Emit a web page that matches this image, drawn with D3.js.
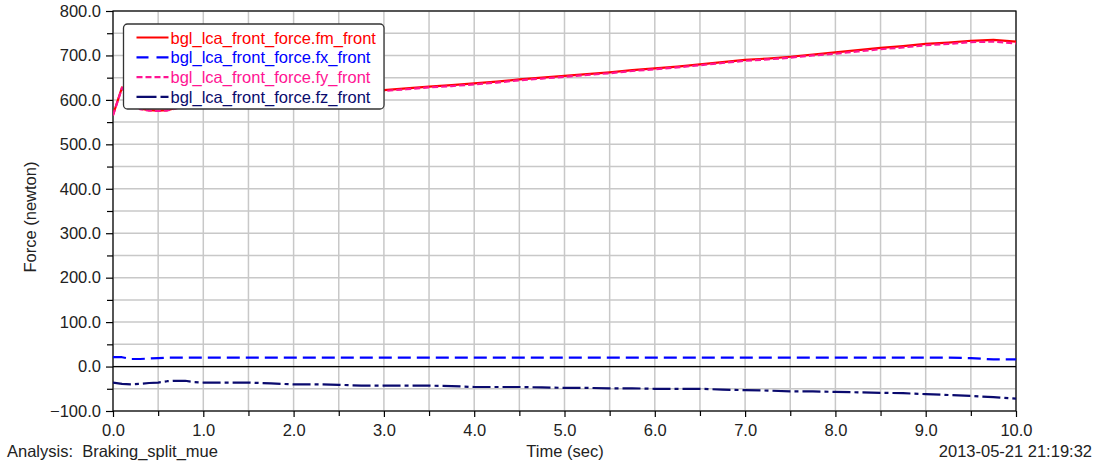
<!DOCTYPE html>
<html>
<head>
<meta charset="utf-8">
<script src="https://cdn.jsdelivr.net/npm/d3@7"></script>
<style>
  html, body { margin: 0; padding: 0; background: #fff; }
  svg { display: block; font-family: "Liberation Sans", Arial, sans-serif; }
</style>
</head>
<body>
<svg id="chart" width="1102" height="468"></svg>
<script>
// Sample times (sec)
const time = [0, 0.1, 0.2, 0.3, 0.4, 0.5, 0.6, 0.7, 0.8, 0.9, 1.0,
  1.25, 1.5, 1.75, 2.0, 2.25, 2.5, 2.75, 3.0, 3.25, 3.5, 3.75, 4.0,
  4.25, 4.5, 4.75, 5.0, 5.25, 5.5, 5.75, 6.0, 6.25, 6.5, 6.75, 7.0,
  7.25, 7.5, 7.75, 8.0, 8.25, 8.5, 8.75, 9.0, 9.25, 9.5, 9.75, 10.0];

// Force components (newton)
const fmFront = [566, 628, 598, 580, 577, 576, 577, 582, 588, 593, 598,
  602, 606, 609, 612, 614, 617, 619, 622, 626, 630, 633, 637,
  641, 646, 650, 654, 658, 662, 667, 671, 675, 680, 685, 690,
  693, 697, 702, 707, 712, 717, 721, 726, 729, 733, 735, 731];

const fxFront = [21, 21, 17, 17, 18, 19, 20, 20, 20, 20, 20,
  20, 20, 20, 20, 20, 20, 20, 20, 20, 20, 20, 20,
  20, 20, 20, 20, 20, 20, 20, 20, 20, 20, 20, 20,
  20, 20, 20, 20, 20, 20, 20, 20, 20, 19, 16, 16];

const fyFront = [565, 627, 597, 579, 576, 575, 576, 581, 587, 592, 597,
  601, 605, 608, 611, 613, 616, 618, 620, 624, 628, 631, 635,
  639, 644, 648, 652, 656, 660, 665, 669, 673, 678, 683, 688,
  691, 695, 700, 704, 709, 714, 718, 723, 726, 730, 731, 727];

const fzFront = [-36, -39, -40, -39, -37, -36, -33, -32, -32, -35, -36,
  -36, -36, -38, -40, -40, -41, -43, -43, -43, -43, -44, -46,
  -46, -46, -47, -48, -48, -49, -49, -50, -50, -50, -52, -53,
  -54, -56, -56, -57, -58, -59, -60, -62, -64, -66, -69, -72];

const seriesNames = [
  "bgl_lca_front_force.fm_front",
  "bgl_lca_front_force.fx_front",
  "bgl_lca_front_force.fy_front",
  "bgl_lca_front_force.fz_front"
];

const xTickValues = [0, 1, 2, 3, 4, 5, 6, 7, 8, 9, 10];
const yTickValues = [-100, 0, 100, 200, 300, 400, 500, 600, 700, 800];

const series = [
  { name: seriesNames[0], values: fmFront, color: "#ff0000", dash: null },
  { name: seriesNames[1], values: fxFront, color: "#0000ff", dash: "13,6" },
  { name: seriesNames[2], values: fyFront, color: "#ff1493", dash: "6,3" },
  { name: seriesNames[3], values: fzFront, color: "#0a0a6e", dash: "18,4,4,4" }
];

const svg = d3.select("#chart");
const plotLeft = 113, plotRight = 1016, plotTop = 11, plotBottom = 411;

const x = d3.scaleLinear().domain([0, 10]).range([plotLeft, plotRight]);
const y = d3.scaleLinear().domain([-100, 800]).range([plotBottom, plotTop]);

// Grid at every half unit
const xGrid = d3.range(0, 10.01, 0.5);
const yGrid = d3.range(-100, 800.1, 50);
const grid = svg.append("g").attr("stroke", "#c8c8c8").attr("stroke-width", 1.5);
grid.selectAll("line.vx").data(xGrid).join("line")
  .attr("x1", d => x(d)).attr("x2", d => x(d))
  .attr("y1", plotTop).attr("y2", plotBottom);
grid.selectAll("line.hy").data(yGrid).join("line")
  .attr("x1", plotLeft).attr("x2", plotRight)
  .attr("y1", d => y(d)).attr("y2", d => y(d));

// Zero line
svg.append("line")
  .attr("x1", plotLeft).attr("x2", plotRight)
  .attr("y1", y(0)).attr("y2", y(0))
  .attr("stroke", "#000").attr("stroke-width", 1.2);

// Plot frame
svg.append("rect")
  .attr("x", plotLeft).attr("y", plotTop)
  .attr("width", plotRight - plotLeft).attr("height", plotBottom - plotTop)
  .attr("fill", "none").attr("stroke", "#000").attr("stroke-width", 1.2);

// Axes
const axisFont = "16.5px";
const xAxis = d3.axisBottom(x).tickValues(xTickValues)
  .tickFormat(d3.format(".1f")).tickSize(6).tickPadding(7);
const gx = svg.append("g").attr("transform", `translate(0,${plotBottom})`).call(xAxis);
gx.select(".domain").remove();
gx.selectAll("text").attr("font-size", axisFont).attr("fill", "#222")
  .attr("font-family", "Liberation Sans, Arial, sans-serif");

const xMinor = d3.axisBottom(x).tickValues(d3.range(0.5, 10, 1)).tickFormat("").tickSize(5);
const gxm = svg.append("g").attr("transform", `translate(0,${plotBottom})`).call(xMinor);
gxm.select(".domain").remove();

const yAxis = d3.axisLeft(y).tickValues(yTickValues)
  .tickFormat(d3.format(".1f")).tickSize(7).tickPadding(5);
const gy = svg.append("g").attr("transform", `translate(${plotLeft},0)`).call(yAxis);
gy.select(".domain").remove();
gy.selectAll("text").attr("font-size", axisFont).attr("fill", "#222")
  .attr("font-family", "Liberation Sans, Arial, sans-serif");

const yMinor = d3.axisLeft(y).tickValues(d3.range(-50, 800, 100)).tickFormat("").tickSize(6);
const gym = svg.append("g").attr("transform", `translate(${plotLeft},0)`).call(yMinor);
gym.select(".domain").remove();

svg.selectAll(".tick line").attr("stroke", "#000").attr("stroke-width", 1.2);

// Clip lines to plot area
svg.append("clipPath").attr("id", "plotClip")
  .append("rect").attr("x", plotLeft).attr("y", plotTop)
  .attr("width", plotRight - plotLeft).attr("height", plotBottom - plotTop);

const line = d3.line().x((d, i) => x(time[i])).y(d => y(d));
const lines = svg.append("g").attr("clip-path", "url(#plotClip)");
series.forEach(s => {
  lines.append("path")
    .datum(s.values)
    .attr("d", line)
    .attr("fill", "none")
    .attr("stroke", s.color)
    .attr("stroke-width", 2.2)
    .attr("stroke-dasharray", s.dash)
    .attr("stroke-linejoin", "round");
});

// Legend
const legend = svg.append("g");
legend.append("rect")
  .attr("x", 123.5).attr("y", 24).attr("width", 260.5).attr("height", 85)
  .attr("rx", 4).attr("ry", 4)
  .attr("fill", "#fff").attr("stroke", "#333").attr("stroke-width", 1.3);
series.forEach((s, i) => {
  const cy = 37.5 + i * 19.8;
  legend.append("line")
    .attr("x1", 136.5).attr("x2", 168.5).attr("y1", cy).attr("y2", cy)
    .attr("stroke", s.color).attr("stroke-width", 2.2)
    .attr("stroke-dasharray", i === 1 ? "12,8" : i === 2 ? "6,3" : i === 3 ? "20,4,8,4" : null);
  legend.append("text")
    .attr("x", 170.5).attr("y", cy + 6)
    .attr("font-size", "16.5px").attr("fill", s.color)
    .text(s.name);
});

// Axis titles and footer
svg.append("text")
  .attr("transform", "translate(36,217) rotate(-90)")
  .attr("text-anchor", "middle").attr("font-size", "16.5px").attr("fill", "#222")
  .text("Force (newton)");
svg.append("text")
  .attr("x", 565).attr("y", 457).attr("text-anchor", "middle")
  .attr("font-size", "16.5px").attr("fill", "#222")
  .text("Time (sec)");
svg.append("text")
  .attr("x", 7).attr("y", 457)
  .attr("font-size", "16.5px").attr("fill", "#222")
  .attr("xml:space", "preserve")
  .text("Analysis:  Braking_split_mue");
svg.append("text")
  .attr("x", 1092).attr("y", 457).attr("text-anchor", "end")
  .attr("font-size", "16.5px").attr("fill", "#222")
  .text("2013-05-21 21:19:32");
</script>
</body>
</html>
